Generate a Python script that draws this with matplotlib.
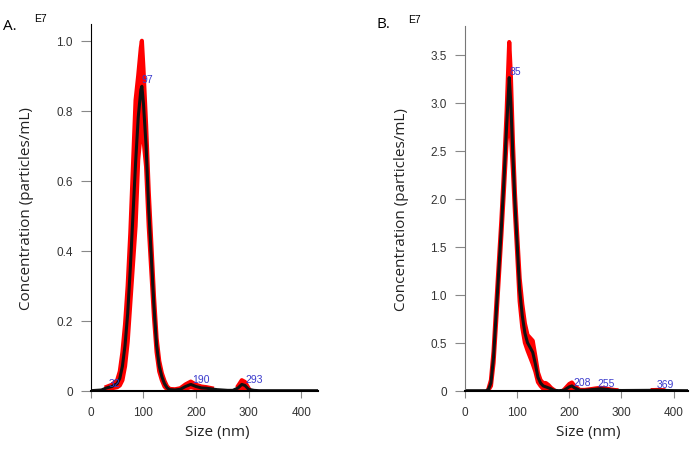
import numpy as np
import matplotlib.pyplot as plt

# panel A: size (nm), mean concentration (E7/mL), error
size_a = [0, 20, 30, 40, 50, 55, 60, 65, 70, 75, 80, 85, 90, 95, 97, 100, 105, 110,
          115, 120, 125, 130, 135, 140, 145, 150, 160, 170, 180, 190, 200, 210, 220,
          230, 240, 250, 260, 270, 280, 287, 293, 300, 310, 320, 430]
conc_a = [0, 0.002, 0.008, 0.012, 0.02, 0.035, 0.07, 0.13, 0.22, 0.35, 0.50, 0.65,
          0.78, 0.86, 0.87, 0.82, 0.70, 0.52, 0.38, 0.24, 0.13, 0.07, 0.04, 0.02,
          0.008, 0.003, 0.002, 0.004, 0.012, 0.018, 0.012, 0.008, 0.007, 0.005,
          0.003, 0.002, 0.001, 0.001, 0.008, 0.018, 0.015, 0.004, 0.001, 0, 0]
err_a = [0, 0.001, 0.003, 0.005, 0.01, 0.02, 0.04, 0.06, 0.08, 0.1, 0.14, 0.18,
         0.12, 0.12, 0.13, 0.1, 0.06, 0.05, 0.04, 0.03, 0.02, 0.015, 0.01, 0.008,
         0.004, 0.002, 0.002, 0.003, 0.006, 0.008, 0.005, 0.004, 0.003, 0.002,
         0.001, 0.001, 0.001, 0.001, 0.006, 0.012, 0.01, 0.003, 0.001, 0, 0]
peaks_a = [32, 97, 190, 293]
peak_pos_a = [(33, 0.022), (97, 0.89), (192, 0.033), (294, 0.033)]

# panel B
size_b = [0, 40, 45, 50, 55, 60, 65, 70, 75, 80, 85, 88, 92, 96, 100, 105, 110, 115,
          120, 125, 130, 135, 140, 145, 150, 155, 160, 165, 170, 180, 190, 200, 205,
          210, 220, 230, 240, 250, 260, 270, 280, 290, 300, 360, 370, 380, 400, 427]
conc_b = [0, 0, 0.01, 0.08, 0.35, 0.80, 1.25, 1.70, 2.20, 2.75, 3.26, 3.0, 2.45,
          1.95, 1.55, 1.05, 0.78, 0.60, 0.50, 0.45, 0.40, 0.28, 0.14, 0.08, 0.05,
          0.04, 0.03, 0.02, 0.005, 0, 0.005, 0.04, 0.05, 0.03, 0.005, 0.005, 0.01,
          0.015, 0.02, 0.015, 0.008, 0.003, 0.002, 0.004, 0.005, 0.003, 0.001, 0]
err_b = [0, 0, 0.005, 0.03, 0.06, 0.08, 0.08, 0.08, 0.1, 0.15, 0.37, 0.3, 0.15,
         0.1, 0.1, 0.12, 0.12, 0.1, 0.08, 0.1, 0.12, 0.08, 0.05, 0.03, 0.03, 0.04,
         0.03, 0.01, 0.005, 0, 0.005, 0.03, 0.035, 0.02, 0.003, 0.003, 0.005, 0.008,
         0.01, 0.008, 0.004, 0.002, 0.001, 0.002, 0.003, 0.002, 0.001, 0]
peaks_b = [85, 208, 255, 369]
peak_pos_b = [(86, 3.33), (208, 0.095), (253, 0.075), (368, 0.07)]

tick_font = 'Liberation Sans'
label_font = 'Open Sans'


def panel(ax, x, y, e, peaks, pos, ymax, yticks, ylabels, xmax, lx, spine_col):
    x = np.array(x)
    y = np.array(y)
    e = np.array(e)
    ax.fill_between(x, y - e, y + e, color='red', lw=0)
    # thicken the band edges only where there is spread
    hi = np.where(e > 0.0015, y + e, np.nan)
    lo = np.where(e > 0.0015, y - e, np.nan)
    ax.plot(x, hi, color='red', lw=3)
    ax.plot(x, lo, color='red', lw=3)
    ax.plot(x, y, color='#111111', lw=2.2)
    for p, (px, py) in zip(peaks, pos):
        ax.text(px, py, str(p), color='#3a3acc', fontsize=7.5, family=tick_font,
                va='center', ha='left')
    ax.set_xlim(0, xmax)
    ax.set_ylim(0, ymax)
    ax.set_xticks([0, 100, 200, 300, 400])
    ax.set_yticks(yticks)
    ax.set_yticklabels(ylabels)
    for sp in ['top', 'right']:
        ax.spines[sp].set_visible(False)
    ax.spines['left'].set_color(spine_col)
    ax.spines['bottom'].set_color('black')
    ax.spines['bottom'].set_linewidth(1.5)
    ax.tick_params(axis='both', colors='#888888', labelcolor='#333333',
                   labelsize=8.5, direction='out', pad=6)
    ax.tick_params(axis='y', length=7)
    ax.tick_params(axis='x', length=5)
    for t in ax.get_xticklabels() + ax.get_yticklabels():
        t.set_family(tick_font)
    ax.set_ylabel('Concentration (particles/mL)', fontsize=11, family=label_font,
                  color='#222222')
    ax.yaxis.set_label_coords(lx, 0.5)
    ax.set_xlabel('Size (nm)', fontsize=11, family=label_font, color='#222222')
    ax.xaxis.set_label_coords(0.555, -0.09)


fig = plt.figure(figsize=(6.99, 4.52), dpi=100)
ax1 = fig.add_axes([0.130, 0.1334, 0.325, 0.8113])
ax2 = fig.add_axes([0.665, 0.1334, 0.319, 0.8075])

panel(ax1, size_a, conc_a, err_a, peaks_a, peak_pos_a, 1.048,
      [0, 0.2, 0.4, 0.6, 0.8, 1.0], ['0', '0.2', '0.4', '0.6', '0.8', '1.0'],
      432, -0.25, 'black')
panel(ax2, size_b, conc_b, err_b, peaks_b, peak_pos_b, 3.80,
      [0, 0.5, 1.0, 1.5, 2.0, 2.5, 3.0, 3.5],
      ['0', '0.5', '1.0', '1.5', '2.0', '2.5', '3.0', '3.5'],
      427, -0.25, '#777777')

fig.text(3 / 699, 1 - 26 / 452, 'A.', fontsize=11, family=label_font, va='center')
fig.text(376 / 699, 1 - 25 / 452, 'B.', fontsize=11, family=label_font, va='center')
fig.text(34 / 699, 1 - 19 / 452, 'E7', fontsize=7.5, family=tick_font, va='center')
fig.text(408 / 699, 1 - 20 / 452, 'E7', fontsize=7.5, family=tick_font, va='center')

fig.savefig('out.png', dpi=100)
